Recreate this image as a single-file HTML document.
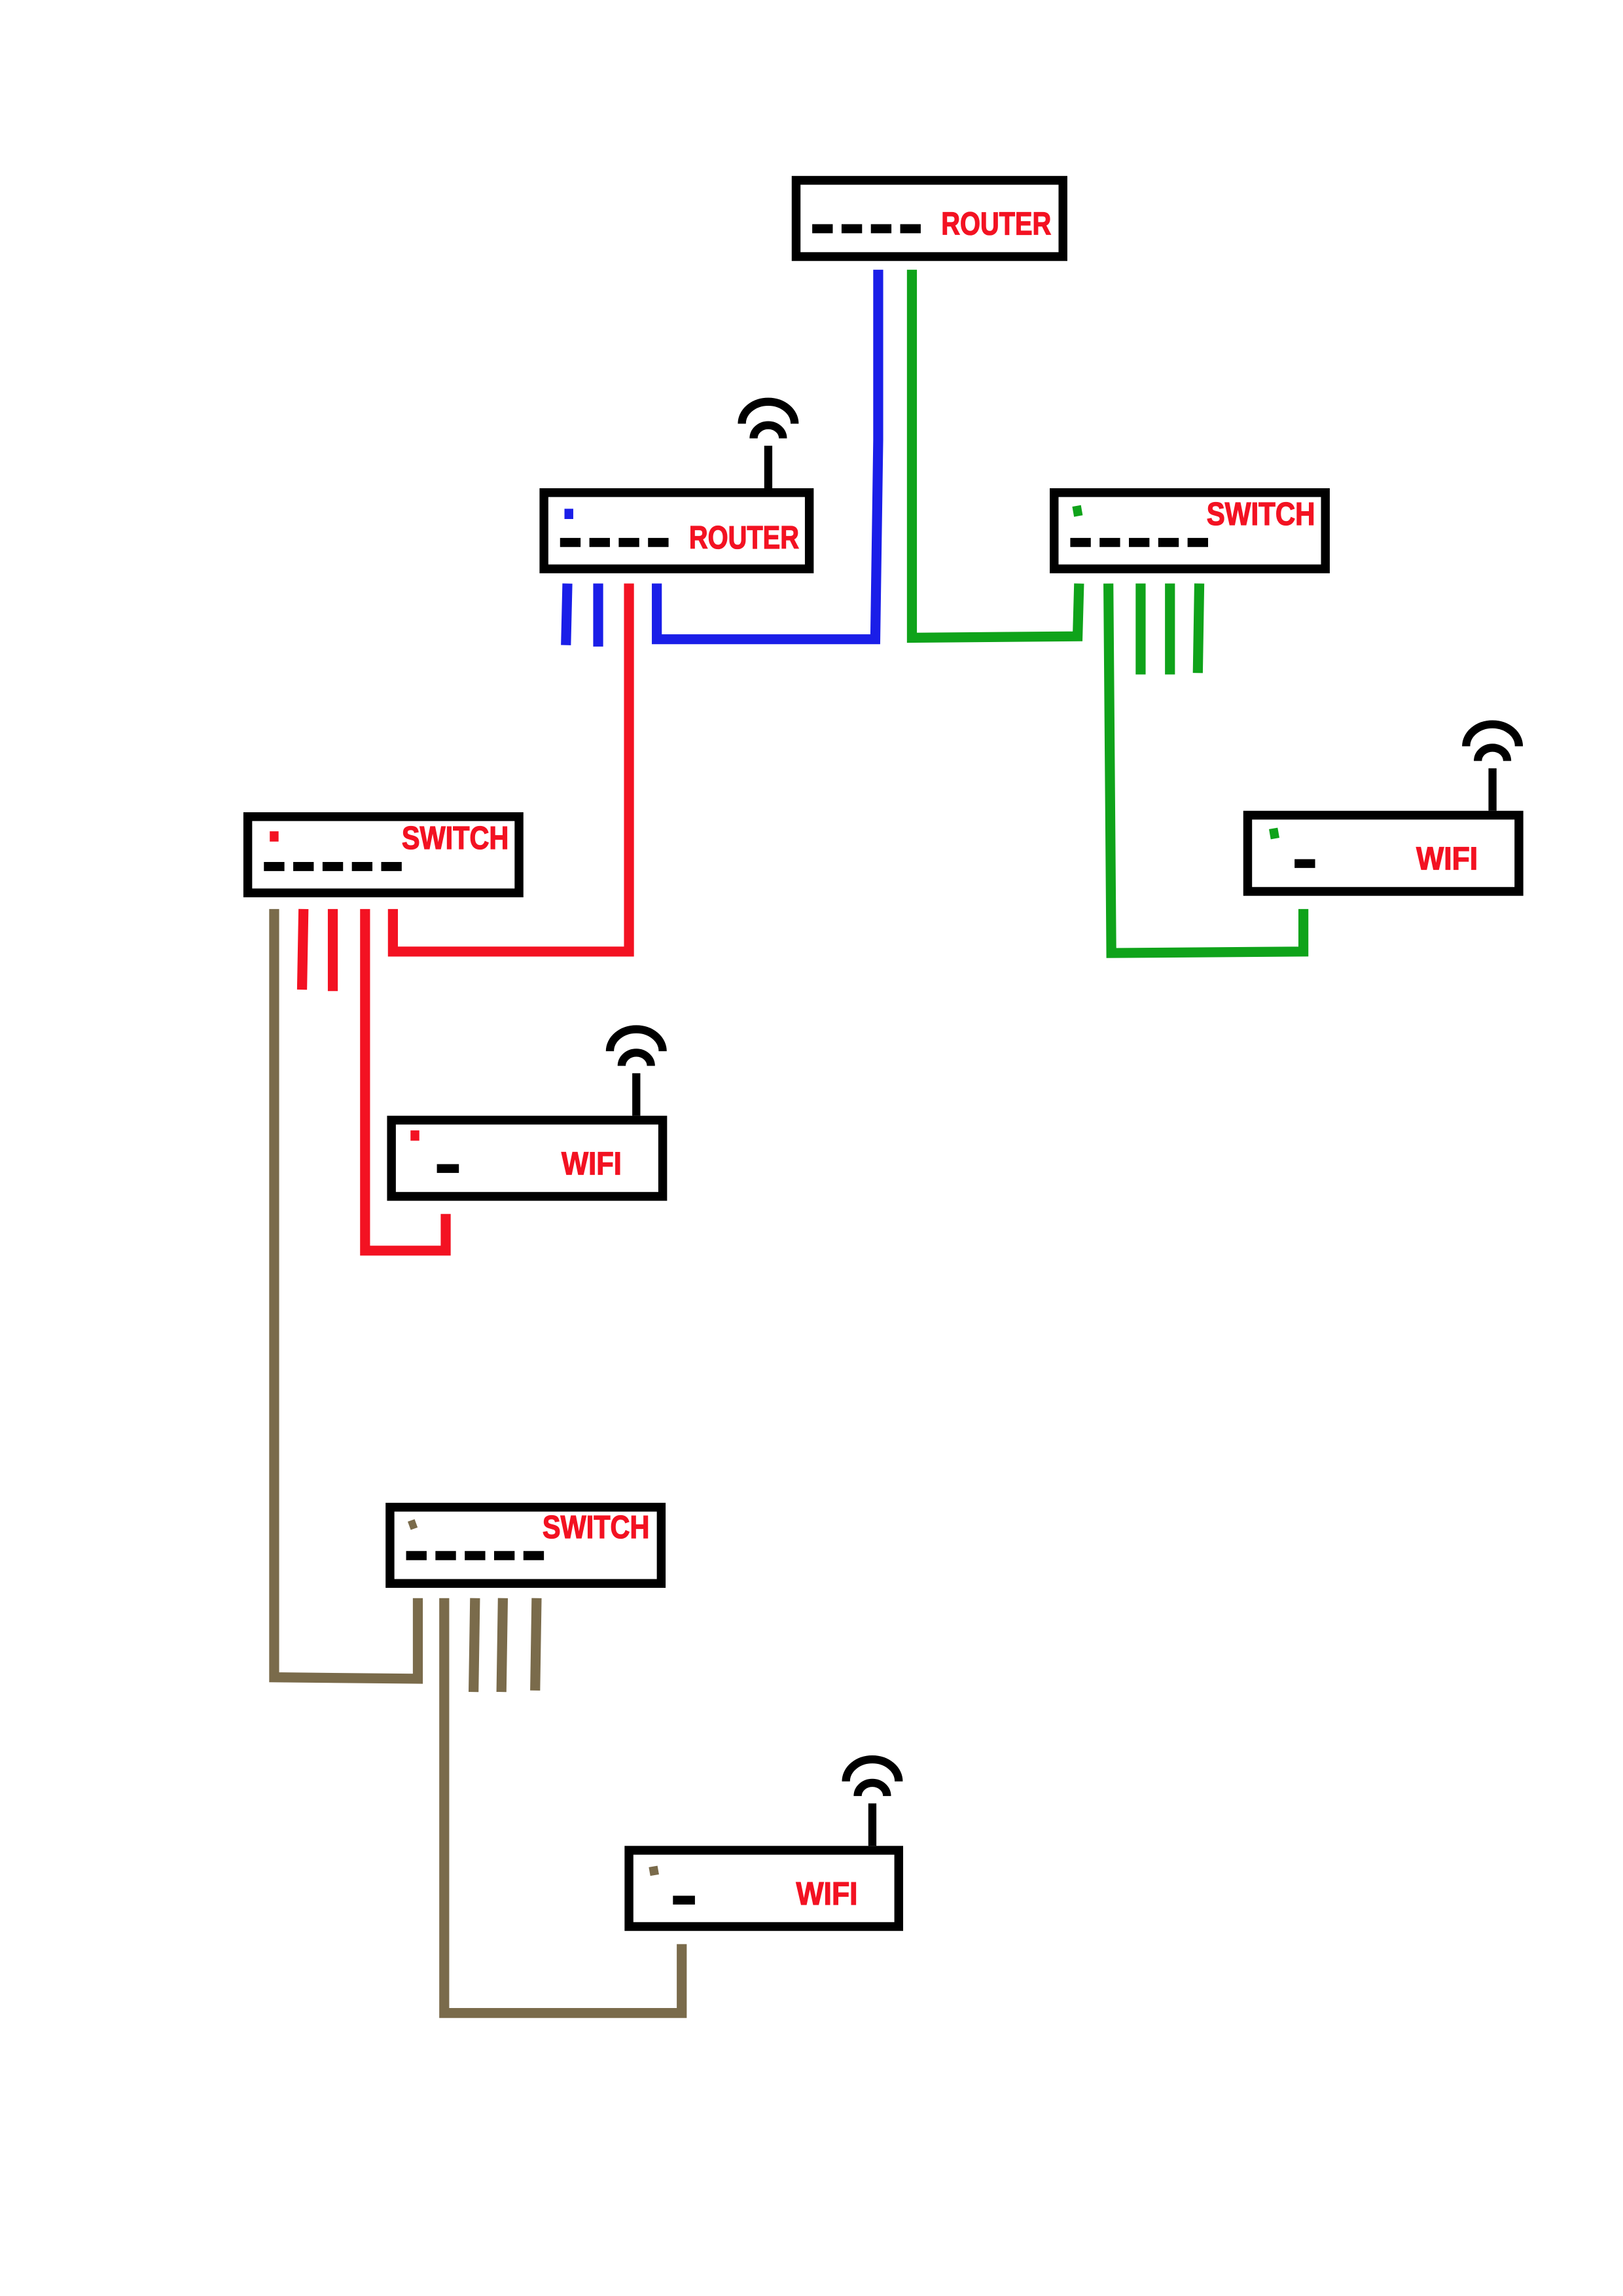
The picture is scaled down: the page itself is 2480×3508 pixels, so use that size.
<!DOCTYPE html>
<html><head><meta charset="utf-8"><style>
html,body{margin:0;padding:0;background:#fff;}
svg{display:block;}
text{font-family:"Liberation Sans",sans-serif;font-weight:bold;fill:#f31222;stroke:#f31222;stroke-width:0.6;font-size:22px;}
</style></head><body>
<svg width="2480" height="3508" viewBox="0 0 1107 1566" preserveAspectRatio="none" xmlns="http://www.w3.org/2000/svg">
<rect width="1107" height="1566" fill="#fff" stroke="none"/>
<g fill="none" stroke-width="6.8" stroke-linejoin="miter" stroke-linecap="butt">
<g stroke="#1a1ee8">
<polyline points="599,184 599,300 597,436 448,436 448,398"/>
<line x1="387" y1="398" x2="386" y2="440"/>
<line x1="408" y1="398" x2="408" y2="441"/>
</g>
<g stroke="#0fa31a">
<polyline points="622,184 622,435 735,434 736,398"/>
<polyline points="756,398 758,650 889,649 889,620"/>
<line x1="778" y1="398" x2="778" y2="460"/>
<line x1="798" y1="398" x2="798" y2="460"/>
<line x1="818" y1="398" x2="817" y2="459"/>
</g>
<g stroke="#f31222">
<polyline points="429,398 429,649 268,649 268,620"/>
<line x1="207" y1="620" x2="206" y2="675"/>
<line x1="227" y1="620" x2="227" y2="676"/>
<polyline points="249,620 249,853 304,853 304,828"/>
</g>
<g stroke="#7a6b4b">
<polyline points="187,620 187,1144 285,1145 285,1090"/>
<polyline points="303,1090 303,1373 465,1373 465,1326"/>
<line x1="324" y1="1090" x2="323" y2="1154"/>
<line x1="343" y1="1090" x2="342" y2="1154"/>
<line x1="366" y1="1090" x2="365" y2="1153"/>
</g>
<g stroke="#000" stroke-width="6">
<rect x="543" y="123" width="182" height="52"/>
<rect x="371" y="336" width="181" height="52"/>
<rect x="719" y="336" width="185" height="52"/>
<rect x="169" y="557" width="185" height="52"/>
<rect x="851" y="556" width="185" height="52"/>
<rect x="267" y="764" width="185" height="52"/>
<rect x="266" y="1028" width="185" height="52"/>
<rect x="429" y="1262" width="184" height="52"/>
</g>
<g stroke="#000" stroke-width="5.5">
<line x1="524" y1="304" x2="524" y2="333"/>
<path d="M514,299 A10,9 0 0 1 534,299"/>
<path d="M506,289 A18,15 0 0 1 542,289"/>
<line x1="1018" y1="524" x2="1018" y2="553"/>
<path d="M1008,519 A10,9 0 0 1 1028,519"/>
<path d="M1000,509 A18,15 0 0 1 1036,509"/>
<line x1="434" y1="732" x2="434" y2="761"/>
<path d="M424,727 A10,9 0 0 1 444,727"/>
<path d="M416,717 A18,15 0 0 1 452,717"/>
<line x1="595" y1="1230" x2="595" y2="1259"/>
<path d="M585,1225 A10,9 0 0 1 605,1225"/>
<path d="M577,1215 A18,15 0 0 1 613,1215"/>
</g>
<g stroke="#000" stroke-width="6.2" stroke-dasharray="14,6">
<line x1="554" y1="156" x2="628" y2="156"/>
<line x1="382" y1="370" x2="456" y2="370"/>
<line x1="730" y1="370" x2="826" y2="370"/>
<line x1="180" y1="591" x2="276" y2="591"/>
<line x1="277" y1="1061" x2="373" y2="1061"/>
</g>
</g>
<g fill="#000">
<rect x="883" y="586" width="14" height="6"/>
<rect x="298" y="794" width="15" height="6"/>
<rect x="459" y="1293" width="15" height="6"/>
</g>
<rect x="385" y="347" width="6" height="7" fill="#1a1ee8"/>
<rect x="732" y="345" width="6" height="7" fill="#0fa31a" transform="rotate(-10 735 349)"/>
<rect x="184" y="567" width="6" height="7" fill="#f31222"/>
<rect x="866" y="565" width="6" height="7" fill="#0fa31a" transform="rotate(-10 869 568)"/>
<rect x="280" y="771" width="6" height="7" fill="#f31222"/>
<rect x="279" y="1037" width="5" height="6" fill="#7a6b4b" transform="rotate(-20 281 1040)"/>
<rect x="443" y="1273" width="6" height="6" fill="#7a6b4b" transform="rotate(-10 446 1276)"/>
<text x="642" y="160" textLength="75" lengthAdjust="spacingAndGlyphs">ROUTER</text>
<text x="470" y="374" textLength="75" lengthAdjust="spacingAndGlyphs">ROUTER</text>
<text x="823" y="358" textLength="74" lengthAdjust="spacingAndGlyphs">SWITCH</text>
<text x="274" y="579" textLength="73" lengthAdjust="spacingAndGlyphs">SWITCH</text>
<text x="370" y="1049" textLength="73" lengthAdjust="spacingAndGlyphs">SWITCH</text>
<text x="966" y="593" textLength="42" lengthAdjust="spacingAndGlyphs">WIFI</text>
<text x="383" y="801" textLength="41" lengthAdjust="spacingAndGlyphs">WIFI</text>
<text x="543" y="1299" textLength="42" lengthAdjust="spacingAndGlyphs">WIFI</text>
</svg>
</body></html>
